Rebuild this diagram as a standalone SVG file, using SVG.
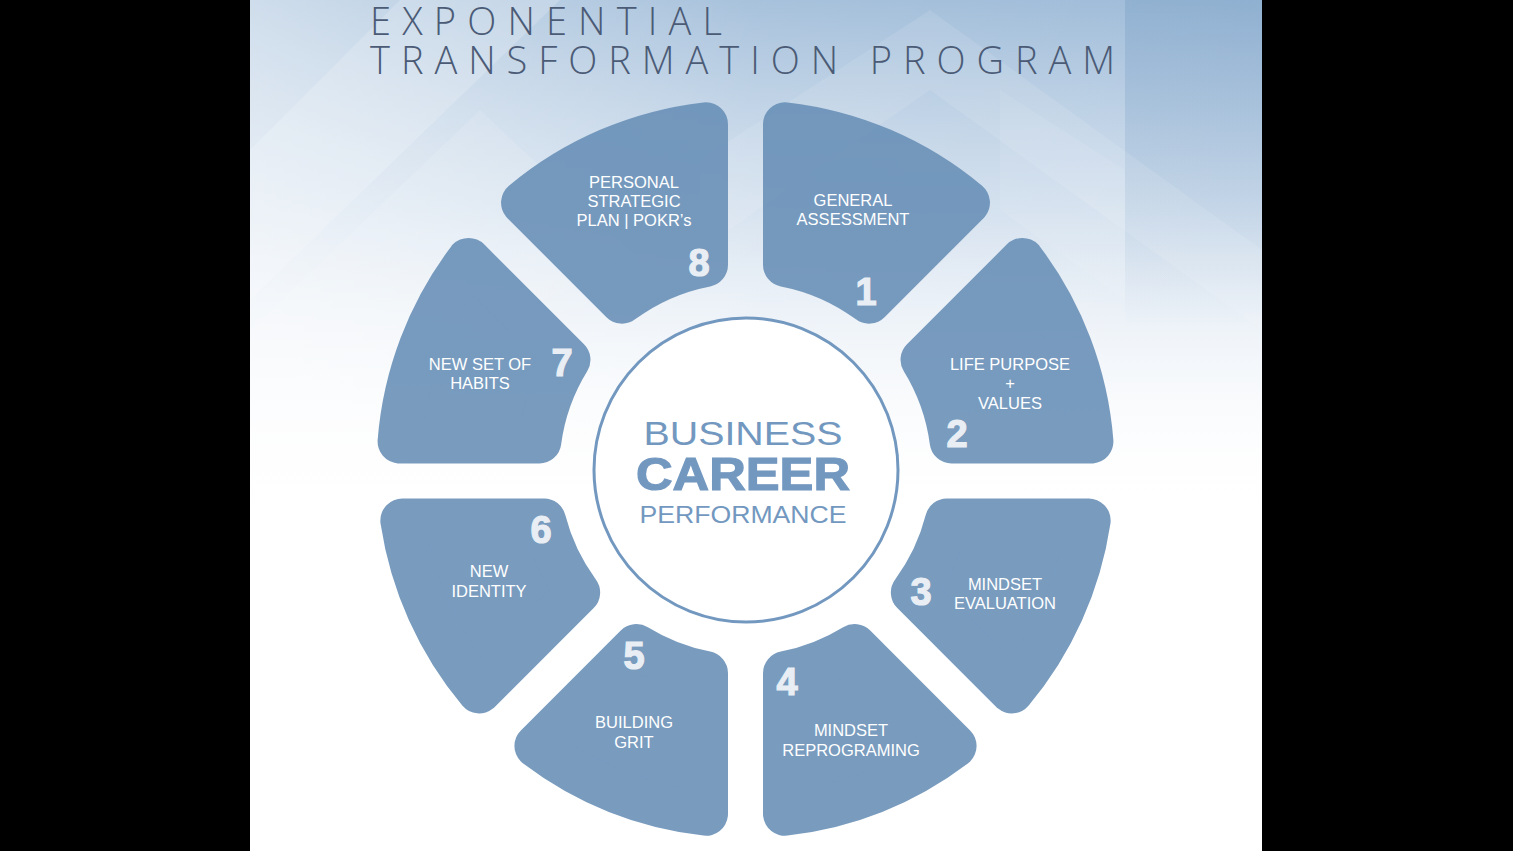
<svg xmlns="http://www.w3.org/2000/svg" width="1513" height="851" viewBox="0 0 1513 851">
  <defs>
    <linearGradient id="bgv" x1="0" y1="0" x2="0" y2="1">
      <stop offset="0" stop-color="#9ebbd8" stop-opacity="1"/>
      <stop offset="0.4" stop-color="#c3d5e8" stop-opacity="0.75"/>
      <stop offset="1" stop-color="#ffffff" stop-opacity="0"/>
    </linearGradient>
    <linearGradient id="bgl" x1="0" y1="0" x2="1" y2="0">
      <stop offset="0" stop-color="#ffffff" stop-opacity="0.5"/>
      <stop offset="0.5" stop-color="#ffffff" stop-opacity="0.1"/>
      <stop offset="1" stop-color="#ffffff" stop-opacity="0"/>
    </linearGradient>
    <linearGradient id="bgr" x1="0" y1="0" x2="0" y2="1">
      <stop offset="0" stop-color="#7fa3c8" stop-opacity="0.45"/>
      <stop offset="1" stop-color="#7fa3c8" stop-opacity="0"/>
    </linearGradient>
    <style>
      .seg { fill: #6a91b8; stroke: #6a91b8; stroke-width: 44; stroke-linejoin: round; opacity: 0.9; }
      .lbl { font-family: "Liberation Sans", Arial, sans-serif; font-size: 16.5px; fill: #ffffff; text-anchor: middle; }
      .num { font-family: "Liberation Sans", Arial, sans-serif; font-size: 38px; font-weight: bold; fill: #e9eef4; stroke: #e9eef4; stroke-width: 1.2; text-anchor: middle; }
      .ctr { font-family: "Liberation Sans", Arial, sans-serif; fill: #7398c0; text-anchor: middle; }
      .ttl { font-family: "Open Sans", "Lato", "Liberation Sans", sans-serif; font-weight: 300; font-size: 38px; fill: #4b5b76; }
      .geo { fill: #ffffff; }
    </style>
  </defs>

  <g id="background">
    <rect x="0" y="0" width="1513" height="851" fill="#000000"/>
    <rect x="250" y="0" width="1012" height="851" fill="#ffffff"/>
    <rect x="250" y="0" width="1012" height="520" fill="url(#bgv)"/>
    <rect x="250" y="0" width="1012" height="520" fill="url(#bgl)"/>
    <rect x="1125" y="0" width="137" height="330" fill="url(#bgr)"/>
    <polygon class="geo" points="250,150 400,0 560,0 250,300" opacity="0.18"/>
    <polygon class="geo" points="250,330 480,110 640,260 250,420" opacity="0.12"/>
    <polygon class="geo" points="930,10 1262,250 1262,330 930,90 700,250 700,160" opacity="0.1"/>
    <polygon class="geo" points="1000,90 1125,170 1125,300 1000,210" opacity="0.08"/>
  </g>

  <g id="title">
    <text class="ttl" x="370" y="35" textLength="352" lengthAdjust="spacing">EXPONENTIAL</text>
    <text class="ttl" x="370" y="74" textLength="745" lengthAdjust="spacing">TRANSFORMATION PROGRAM</text>
  </g>

  <g id="connectors"/>

  <g id="seg1">
    <path class="seg" d="M785 124.26 A347 347 0 0 1 967.96 202.68 L869 301.64 A208 208 0 0 0 785 264.78 Z"/>
    <text class="lbl" x="853" y="205.5">GENERAL</text>
    <text class="lbl" x="853" y="225">ASSESSMENT</text>
    <text class="num" x="866" y="305">1</text>
  </g>
  <g id="seg2">
    <path class="seg" d="M1022.44 259.92 A347 347 0 0 1 1091.41 441.5 L951.67 441.5 A208 208 0 0 0 922.54 359.82 Z"/>
    <text class="lbl" x="1010" y="370">LIFE PURPOSE</text>
    <text class="lbl" x="1010" y="389">+</text>
    <text class="lbl" x="1010" y="409">VALUES</text>
    <text class="num" x="957" y="447">2</text>
  </g>
  <g id="seg3">
    <path class="seg" d="M1088.66 520.5 A347 347 0 0 1 1011.82 691.46 L912.86 592.5 A208 208 0 0 0 947.02 520.5 Z"/>
    <text class="lbl" x="1005" y="590">MINDSET</text>
    <text class="lbl" x="1005" y="609">EVALUATION</text>
    <text class="num" x="921" y="605">3</text>
  </g>
  <g id="seg4">
    <path class="seg" d="M954.58 745.94 A347 347 0 0 1 785 813.74 L785 673.22 A208 208 0 0 0 854.68 646.04 Z"/>
    <text class="lbl" x="851" y="736">MINDSET</text>
    <text class="lbl" x="851" y="756">REPROGRAMING</text>
    <text class="num" x="787" y="695">4</text>
  </g>
  <g id="seg5">
    <path class="seg" d="M536.42 745.94 A347 347 0 0 0 706 813.74 L706 673.22 A208 208 0 0 1 636.32 646.04 Z"/>
    <text class="lbl" x="634" y="728">BUILDING</text>
    <text class="lbl" x="634" y="748">GRIT</text>
    <text class="num" x="634" y="669">5</text>
  </g>
  <g id="seg6">
    <path class="seg" d="M402.34 520.5 A347 347 0 0 0 479.18 691.46 L578.14 592.5 A208 208 0 0 1 543.98 520.5 Z"/>
    <text class="lbl" x="489" y="577">NEW</text>
    <text class="lbl" x="489" y="597">IDENTITY</text>
    <text class="num" x="541" y="543">6</text>
  </g>
  <g id="seg7">
    <path class="seg" d="M468.56 259.92 A347 347 0 0 0 399.59 441.5 L539.33 441.5 A208 208 0 0 1 568.46 359.82 Z"/>
    <text class="lbl" x="480" y="370">NEW SET OF</text>
    <text class="lbl" x="480" y="389">HABITS</text>
    <text class="num" x="562" y="376">7</text>
  </g>
  <g id="seg8">
    <path class="seg" d="M706 124.26 A347 347 0 0 0 523.04 202.68 L622 301.64 A208 208 0 0 1 706 264.78 Z"/>
    <text class="lbl" x="634" y="188">PERSONAL</text>
    <text class="lbl" x="634" y="207">STRATEGIC</text>
    <text class="lbl" x="634" y="226">PLAN | POKR’s</text>
    <text class="num" x="699" y="276">8</text>
  </g>

  <g id="center">
    <circle cx="746" cy="470" r="152" fill="#ffffff" stroke="#7398c0" stroke-width="3"/>
    <text class="ctr" x="743" y="445" font-size="34" textLength="199" lengthAdjust="spacingAndGlyphs">BUSINESS</text>
    <text class="ctr" x="743" y="490" font-size="46" font-weight="bold" stroke="#7398c0" stroke-width="1.2" textLength="214" lengthAdjust="spacingAndGlyphs">CAREER</text>
    <text class="ctr" x="743" y="523" font-size="23" textLength="207" lengthAdjust="spacingAndGlyphs">PERFORMANCE</text>
  </g>
</svg>
